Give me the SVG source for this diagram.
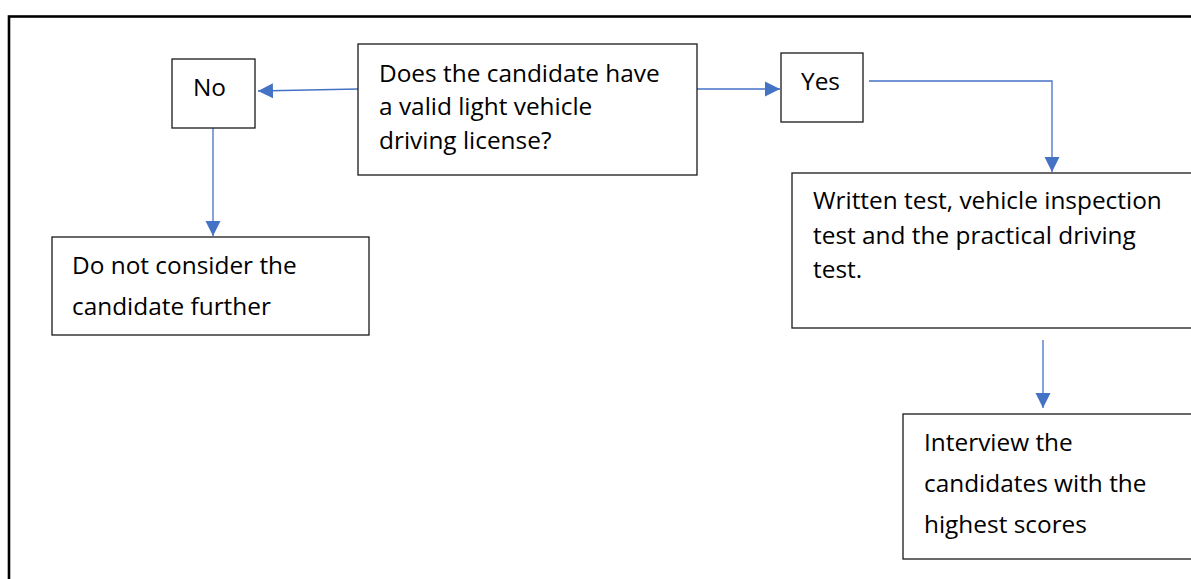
<svg xmlns="http://www.w3.org/2000/svg" width="1191" height="579" viewBox="0 0 1191 579">
<style>
.box{fill:#fff;stroke:#1a1a1a;stroke-width:1.3}
.t{font-family:"Open Sans","Noto Sans",sans-serif;font-size:24.4px;fill:#000}
.c{fill:none;stroke:#4472C4;stroke-width:1.3}
</style>
<defs>
<marker id="ah" markerUnits="userSpaceOnUse" markerWidth="16" markerHeight="16" viewBox="0 0 16 16" refX="15" refY="8" orient="auto">
<path d="M0,0.5 L15,8 L0,15.5 Z" fill="#4472C4"/>
</marker>
</defs>
<rect x="9" y="16.5" width="1300" height="700" fill="#fff" stroke="#000" stroke-width="2.6"/>
<g id="connectors">
<path class="c" d="M358,89 L258,91" marker-end="url(#ah)"/>
<path class="c" d="M697,89 L780,89" marker-end="url(#ah)"/>
<path class="c" d="M869,81 L1052,81 L1052,172" marker-end="url(#ah)"/>
<path class="c" d="M213,128 L213,236" marker-end="url(#ah)"/>
<path class="c" d="M1043,340 L1043,408" marker-end="url(#ah)"/>
</g>
<g id="q">
<rect class="box" x="358" y="44" width="339" height="131"/>
<text class="t" x="379" y="82">Does the candidate have</text>
<text class="t" x="379" y="115">a valid light vehicle</text>
<text class="t" x="379" y="149">driving license?</text>
</g>
<g id="no">
<rect class="box" x="172" y="59" width="83" height="69"/>
<text class="t" x="193" y="96">No</text>
</g>
<g id="yes">
<rect class="box" x="781" y="53" width="82" height="69"/>
<text class="t" x="801" y="90">Yes</text>
</g>
<g id="reject">
<rect class="box" x="52" y="237" width="317" height="98"/>
<text class="t" x="72" y="274">Do not consider the</text>
<text class="t" x="72" y="315">candidate further</text>
</g>
<g id="tests">
<rect class="box" x="792" y="173" width="450" height="155"/>
<text class="t" x="813" y="209">Written test, vehicle inspection</text>
<text class="t" x="813" y="244">test and the practical driving</text>
<text class="t" x="813" y="278">test.</text>
</g>
<g id="interview">
<rect class="box" x="903" y="414" width="350" height="145"/>
<text class="t" x="924" y="451">Interview the</text>
<text class="t" x="924" y="492">candidates with the</text>
<text class="t" x="924" y="533">highest scores</text>
</g>
</svg>
